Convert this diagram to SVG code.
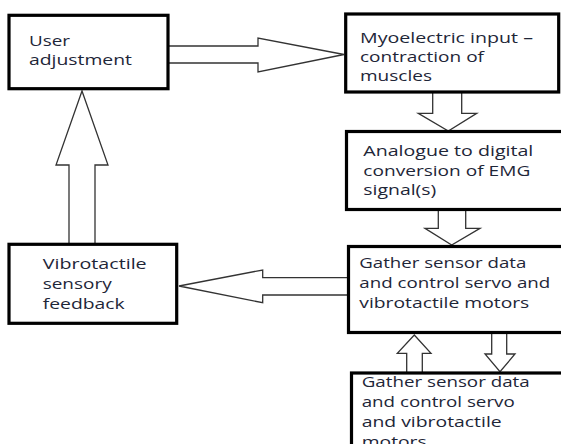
<svg xmlns="http://www.w3.org/2000/svg" width="561" height="444" viewBox="0 0 561 444">
<style>
.box{fill:#fff;stroke:#000;stroke-width:3.2}
.arr{fill:#fff;stroke:#333;stroke-width:1.3;stroke-linejoin:miter}
text{font-family:"Open Sans","Noto Sans","DejaVu Sans",sans-serif;font-size:15px;fill:#1e2638}
</style>
<rect width="561" height="444" fill="#fff"/>
<g id="connectors">
<polygon class="arr" points="168,46 258,46 258,38 344,54.5 258,72 258,63 168,63"/>
<polygon class="arr" points="432.7,92 432.7,113.3 418.3,113.3 448.3,131 476.7,113.3 461.7,113.3 461.7,92"/>
<polygon class="arr" points="438.3,209 438.3,228.3 425,228.3 451.7,245 480,228.3 465.7,228.3 465.7,209"/>
<polygon class="arr" points="349,277.7 262.7,277.7 262.7,270 179,286 262.7,302.7 262.7,295 349,295"/>
<polygon class="arr" points="69,245 69,165 56,165 82,91 108,165 95,165 95,245"/>
<polygon class="arr" points="406.7,374 406.7,353.3 397.3,353.3 414.3,335 431,353.3 422.3,353.3 422.3,374"/>
<polygon class="arr" points="491.7,332 491.7,354 485,354 500,371.7 515,354 506.7,354 506.7,332"/>
</g>
<g id="user-adjustment">
<rect class="box" x="9" y="15.3" width="159" height="73.4"/>
<text x="29" y="46" textLength="41" lengthAdjust="spacingAndGlyphs">User</text>
<text x="29" y="65" textLength="103" lengthAdjust="spacingAndGlyphs">adjustment</text>
</g>
<g id="myoelectric-input">
<rect class="box" x="345.7" y="14" width="213" height="78"/>
<text x="360" y="43.3" textLength="173" lengthAdjust="spacingAndGlyphs">Myoelectric input –</text>
<text x="360" y="61.7" textLength="124" lengthAdjust="spacingAndGlyphs">contraction of</text>
<text x="360" y="81" textLength="72" lengthAdjust="spacingAndGlyphs">muscles</text>
</g>
<g id="adc">
<rect class="box" x="346.5" y="131.5" width="230" height="78"/>
<text x="363.3" y="155.7" textLength="170" lengthAdjust="spacingAndGlyphs">Analogue to digital</text>
<text x="363.3" y="176" textLength="167" lengthAdjust="spacingAndGlyphs">conversion of EMG</text>
<text x="363.3" y="195" textLength="73" lengthAdjust="spacingAndGlyphs">signal(s)</text>
</g>
<g id="gather-1">
<rect class="box" x="348.5" y="246.5" width="230" height="86"/>
<text x="359.3" y="268.3" textLength="167" lengthAdjust="spacingAndGlyphs">Gather sensor data</text>
<text x="359.3" y="288.3" textLength="191" lengthAdjust="spacingAndGlyphs">and control servo and</text>
<text x="359.3" y="308.3" textLength="170" lengthAdjust="spacingAndGlyphs">vibrotactile motors</text>
</g>
<g id="gather-2">
<rect class="box" x="351.5" y="373" width="230" height="90"/>
<text x="361.7" y="386.7" textLength="168" lengthAdjust="spacingAndGlyphs">Gather sensor data</text>
<text x="361.7" y="406.7" textLength="153" lengthAdjust="spacingAndGlyphs">and control servo</text>
<text x="361.7" y="426.7" textLength="140" lengthAdjust="spacingAndGlyphs">and vibrotactile</text>
<text x="361.7" y="446.7" textLength="65" lengthAdjust="spacingAndGlyphs">motors</text>
</g>
<g id="vibrotactile-feedback">
<rect class="box" x="9" y="244.3" width="167.7" height="79"/>
<text x="42.7" y="269.3" textLength="104" lengthAdjust="spacingAndGlyphs">Vibrotactile</text>
<text x="42.7" y="289.3" textLength="69" lengthAdjust="spacingAndGlyphs">sensory</text>
<text x="42.7" y="309.3" textLength="82" lengthAdjust="spacingAndGlyphs">feedback</text>
</g>
</svg>
